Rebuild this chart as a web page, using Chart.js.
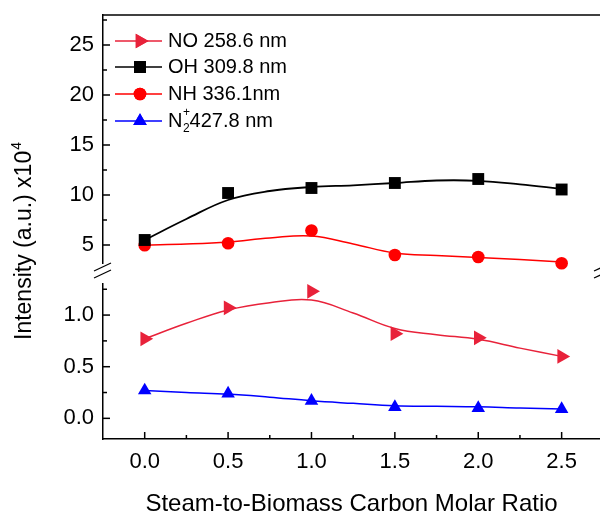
<!DOCTYPE html>
<html>
<head>
<meta charset="utf-8">
<script src="https://cdn.jsdelivr.net/npm/chart.js@4.4.0/dist/chart.umd.min.js"></script>
<style>
  html, body { margin: 0; padding: 0; background: #fff; }
  #wrap { width: 600px; height: 515px; }
</style>
</head>
<body>
<div id="wrap"><canvas id="c" width="600" height="515"></canvas></div>
<script>
// Measured emission intensities (x10^4 a.u.) per steam-to-biomass carbon ratio
const ratios   = [0, 0.5, 1.0, 1.5, 2.0, 2.5];
const noValues = [0.77, 1.07, 1.23, 0.82, 0.78, 0.60];
const ohValues = [5.5, 10.2, 10.7, 11.2, 11.6, 10.55];
const nhValues = [4.97, 5.17, 6.45, 4.0, 3.8, 3.17];
const n2Values = [0.27, 0.24, 0.17, 0.11, 0.10, 0.09];

// Smoothed fit curves, sampled every 0.25
const fitRatios = [0, 0.25, 0.5, 0.75, 1.0, 1.25, 1.5, 1.75, 2.0, 2.25, 2.5];
const noFit = [0.77, 0.92, 1.05, 1.12, 1.145, 1.02, 0.87, 0.81, 0.765, 0.68, 0.60];
const ohFit = [5.5, 7.6, 9.5, 10.4, 10.8, 10.97, 11.2, 11.45, 11.42, 11.07, 10.6];
const nhFit = [5.0, 5.1, 5.3, 5.7, 5.9, 5.1, 4.2, 3.95, 3.75, 3.55, 3.3];
const n2Fit = [0.27, 0.25, 0.235, 0.205, 0.17, 0.145, 0.122, 0.117, 0.112, 0.10, 0.09];

// Axis ticks (upper and lower parts of the broken intensity axis)
const upperTicks = [5, 10, 15, 20, 25];
const upperMinor = [7.5, 12.5, 17.5, 22.5, 27.5];
const lowerTicks = [0, 0.5, 1.0];
const lowerMinor = [0.25, 0.75, 1.25];
const xTicks = [0, 0.5, 1.0, 1.5, 2.0, 2.5];
const xMinor = [0.25, 0.75, 1.25, 1.75, 2.25];

const FONT = "'Liberation Sans', Arial, Helvetica, sans-serif";
const NO_COLOR = '#e8223a';
const OH_COLOR = '#000000';
const NH_COLOR = '#ff0000';
const N2_COLOR = '#0000ff';

const pts = (xs, ys) => xs.map((x, i) => ({ x: x, y: ys[i] }));

const series = [
  { key: 'NO', color: NO_COLOR, axis: 'yLow', values: noValues, fit: noFit, style: 'triangle', rot: 90, r: 8.5 },
  { key: 'OH', color: OH_COLOR, axis: 'yUp',  values: ohValues, fit: ohFit, style: 'rect',     rot: 0,  r: 8.4 },
  { key: 'NH', color: NH_COLOR, axis: 'yUp',  values: nhValues, fit: nhFit, style: 'circle',   rot: 0,  r: 6.3 },
  { key: 'N2', color: N2_COLOR, axis: 'yLow', values: n2Values, fit: n2Fit, style: 'triangle', rot: 0,  r: 7.8 }
];

const datasets = [];
series.forEach(s => {
  datasets.push({
    label: s.key,
    data: pts(ratios, s.values),
    yAxisID: s.axis,
    showLine: false,
    pointStyle: s.style,
    pointRotation: s.rot,
    pointRadius: s.r,
    pointBackgroundColor: s.color,
    pointBorderColor: s.color,
    pointBorderWidth: 0
  });
});
series.forEach(s => {
  datasets.push({
    label: s.key + ' fit',
    data: pts(fitRatios, s.fit),
    yAxisID: s.axis,
    showLine: true,
    borderColor: s.color,
    borderWidth: s.key === 'OH' ? 1.8 : 1.5,
    tension: 0.4,
    pointRadius: 0,
    fill: false
  });
});

function setTicks(values) {
  return scale => { scale.ticks = values.map(v => ({ value: v })); };
}

function fitY(s) {
  s.width = 103;
  s.paddingTop = 0;
  s.paddingBottom = 0;
}

function fitX(s) {
  s.height = 76;
  s.paddingLeft = 0;
  s.paddingRight = 0;
}

function drawMarker(ctx, s, x, y) {
  ctx.fillStyle = s.color;
  if (Chart.helpers && Chart.helpers.drawPoint) {
    Chart.helpers.drawPoint(ctx, { pointStyle: s.style, rotation: s.rot, radius: s.r, borderWidth: 0 }, x, y);
    ctx.fill();
  }
}

// Inward tick marks, frame, axis breaks, legend and y title
const decor = {
  id: 'decor',
  afterDraw(chart) {
    const ctx = chart.ctx;
    const a = chart.chartArea;
    const xs = chart.scales.x, yu = chart.scales.yUp, yl = chart.scales.yLow;
    ctx.save();
    ctx.strokeStyle = '#000';
    ctx.lineWidth = 1.5;
    const seg = (x1, y1, x2, y2) => { ctx.beginPath(); ctx.moveTo(x1, y1); ctx.lineTo(x2, y2); ctx.stroke(); };

    seg(a.left, a.top, a.right, a.top);

    upperTicks.forEach(v => { const y = yu.getPixelForValue(v); seg(a.left, y, a.left + 7, y); });
    upperMinor.forEach(v => { const y = yu.getPixelForValue(v); seg(a.left, y, a.left + 4, y); });
    lowerTicks.forEach(v => { const y = yl.getPixelForValue(v); seg(a.left, y, a.left + 7, y); });
    lowerMinor.forEach(v => { const y = yl.getPixelForValue(v); seg(a.left, y, a.left + 4, y); });
    xTicks.forEach(v => { const x = xs.getPixelForValue(v); seg(x, a.bottom, x, a.bottom - 7); });
    xMinor.forEach(v => { const x = xs.getPixelForValue(v); seg(x, a.bottom, x, a.bottom - 4); });

    // axis break between the two intensity ranges
    const b = yu.bottom;
    [a.left, a.right + 3].forEach(cx => {
      ctx.fillStyle = '#fff';
      ctx.fillRect(cx - 3, b - 11, 6, 19);
      ctx.lineWidth = 1.3;
      seg(cx - 9, b - 4, cx + 8, b - 12);
      seg(cx - 9, b + 3, cx + 8, b - 5);
    });

    // legend
    const rows = [41, 67, 94, 121];
    ctx.font = '20px ' + FONT;
    ctx.textBaseline = 'middle';
    ctx.textAlign = 'left';
    series.forEach((s, i) => {
      const y = rows[i];
      ctx.strokeStyle = s.color;
      ctx.lineWidth = 1.5;
      seg(115, y, 162, y);
      drawMarker(ctx, s, 140, y);
    });
    ctx.fillStyle = '#000';
    ctx.fillText('NO 258.6 nm', 168, rows[0]);
    ctx.fillText('OH 309.8 nm', 168, rows[1]);
    ctx.fillText('NH 336.1nm', 168, rows[2]);
    let x = 168;
    ctx.fillText('N', x, rows[3]);
    x += ctx.measureText('N').width;
    ctx.font = '12px ' + FONT;
    ctx.fillText('2', x + 0.5, rows[3] + 8);
    ctx.fillText('+', x + 0.5, rows[3] - 8);
    x += ctx.measureText('2').width + 0.5;
    ctx.font = '20px ' + FONT;
    ctx.fillText('427.8 nm', x, rows[3]);

    // y axis title
    ctx.translate(25, 340);
    ctx.rotate(-Math.PI / 2);
    ctx.font = '23px ' + FONT;
    ctx.fillText('Intensity (a.u.) x10', 0, 0);
    const w = ctx.measureText('Intensity (a.u.) x10').width;
    ctx.font = '14px ' + FONT;
    ctx.fillText('4', w + 1, -8);
    ctx.restore();
  }
};

new Chart(document.getElementById('c'), {
  type: 'line',
  data: { datasets: datasets },
  plugins: [decor],
  options: {
    responsive: false,
    animation: false,
    events: [],
    layout: { autoPadding: false, padding: { top: 15, right: 0, left: 0, bottom: 0 } },
    plugins: { legend: { display: false }, tooltip: { enabled: false } },
    scales: {
      x: {
        type: 'linear',
        min: -0.25,
        max: 2.73,
        afterBuildTicks: setTicks(xTicks),
        afterFit: fitX,
        grid: { display: false, drawTicks: false },
        border: { display: true, color: '#000', width: 1.5 },
        ticks: { color: '#000', font: { family: FONT, size: 22 }, padding: 10,
                 callback: v => v.toFixed(1), maxRotation: 0, autoSkip: false },
        title: { display: true, text: 'Steam-to-Biomass Carbon Molar Ratio', color: '#000',
                 font: { family: FONT, size: 24, lineHeight: 0.85 }, padding: { top: 0, bottom: 0 } }
      },
      yUp: {
        type: 'linear',
        position: 'left',
        stack: 'intensity',
        stackWeight: 260,
        weight: 1,
        min: 2,
        max: 28,
        afterBuildTicks: setTicks(upperTicks),
        afterFit: fitY,
        grid: { display: false, drawTicks: false },
        border: { display: true, color: '#000', width: 1.5 },
        ticks: { color: '#000', font: { family: FONT, size: 22 }, padding: 9,
                 callback: v => String(v), autoSkip: false }
      },
      yLow: {
        type: 'linear',
        position: 'left',
        stack: 'intensity',
        stackWeight: 164,
        weight: 0,
        min: -0.2,
        max: 1.388,
        afterBuildTicks: setTicks(lowerTicks),
        afterFit: fitY,
        grid: { display: false, drawTicks: false },
        border: { display: true, color: '#000', width: 1.5 },
        ticks: { color: '#000', font: { family: FONT, size: 22 }, padding: 9,
                 callback: v => v.toFixed(1), autoSkip: false }
      }
    }
  }
});
</script>
</body>
</html>
